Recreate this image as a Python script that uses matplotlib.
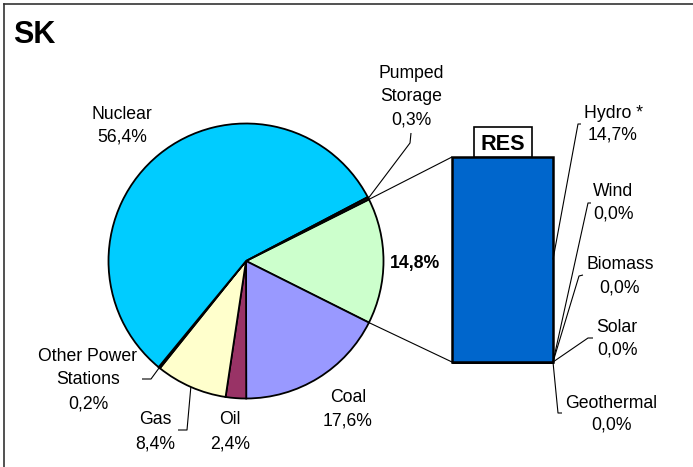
import numpy as np
import matplotlib
matplotlib.use("Agg")
import matplotlib.pyplot as plt
from matplotlib.patches import Rectangle

plt.rcParams['font.family'] = ['Liberation Sans', 'DejaVu Sans']

# ---- data ----
pie_labels = ["RES", "Coal", "Oil", "Gas", "Other Power Stations", "Nuclear", "Pumped Storage"]
pie_values = [14.8, 17.6, 2.4, 8.4, 0.2, 56.4, 0.3]
pie_colors = ["#CCFFCC", "#9999FF", "#993366", "#FFFFCC", "#111111", "#00CCFF", "#111111"]

res_labels = ["Geothermal", "Solar", "Biomass", "Wind", "Hydro *"]
res_values = [0.0, 0.0, 0.0, 0.0, 14.7]

W, H = 693, 467
fig = plt.figure(figsize=(W / 100, H / 100), dpi=100)

# pie axes: centre (246,261) px, radius 137.5 px
cx, cy, r = 246, 261, 137.5
pie_ax = fig.add_axes([(cx - r) / W, (H - cy - r) / H, 2 * r / W, 2 * r / H])
total = sum(pie_values)
start = pie_values[0] / total * 180.0
wedges, _ = pie_ax.pie(pie_values, colors=pie_colors, startangle=start, counterclock=False,
                       wedgeprops=dict(edgecolor="black", linewidth=1.3))
pie_ax.set_xlim(-1, 1)
pie_ax.set_ylim(-1, 1)
pie_ax.axis("off")

# bar axes
bx0, bx1, by0, by1 = 452, 553, 157, 362
bar_ax = fig.add_axes([bx0 / W, (H - by1) / H, (bx1 - bx0) / W, (by1 - by0) / H])
bottom = 0.0
bar_mids = []
for v in res_values:
    bar_ax.bar(0, v, bottom=bottom, width=1.0, color="#0066CC", edgecolor="black",
               linewidth=1.8, clip_on=False)
    bar_mids.append(bottom + v / 2)
    bottom += v
bar_ax.set_xlim(-0.5, 0.5)
bar_ax.set_ylim(0, sum(res_values))
bar_ax.axis("off")

# overlay axes in pixel coords (y down)
ov = fig.add_axes([0, 0, 1, 1], facecolor="none")
ov.set_xlim(0, W)
ov.set_ylim(H, 0)
ov.axis("off")


def to_px(ax, x, y):
    d = ax.transData.transform((x, y))
    return d[0], H - d[1]


def wedge_point(i, frac=0.5):
    w = wedges[i]
    a = np.deg2rad(w.theta1 + (w.theta2 - w.theta1) * frac)
    return to_px(pie_ax, np.cos(a), np.sin(a))


FS = 12.7
CAP = 0.716 * FS * 100 / 72 / 2


def label(x, ys, lines, bold=False, size=FS):
    for y, t in zip(ys, lines):
        ov.text(x, y + CAP * size / FS, t, ha="center", va="baseline", fontsize=size,
                fontweight="bold" if bold else "normal", color="black")


def leader(pts):
    xs = [p[0] for p in pts]
    ys = [p[1] for p in pts]
    ov.plot(xs, ys, color="black", lw=0.8, solid_capstyle="butt")


# connector lines between RES wedge and bar
w = wedges[0]
top_pt = to_px(pie_ax, np.cos(np.deg2rad(max(w.theta1, w.theta2))), np.sin(np.deg2rad(max(w.theta1, w.theta2))))
bot_pt = to_px(pie_ax, np.cos(np.deg2rad(min(w.theta1, w.theta2))), np.sin(np.deg2rad(min(w.theta1, w.theta2))))
btl = to_px(bar_ax, -0.5, sum(res_values))
bbl = to_px(bar_ax, -0.5, 0)
leader([top_pt, btl])
leader([bot_pt, bbl])

# pie labels
label(122, [113, 135], ["Nuclear", "56,4%"])
label(411, [72, 95, 118], ["Pumped", "Storage", "0,3%"])
leader([(411, 133), (410, 143), wedge_point(6)])
label(415, [262], ["14,8%"], bold=True)
label(348, [396, 419], ["Coal", "17,6%"])
label(230, [418, 442], ["Oil", "2,4%"])
label(155, [418, 442], ["Gas", "8,4%"])
leader([(178, 430), (187, 430), wedge_point(3)])
label(88, [355, 378, 402], ["Other Power", "Stations", "0,2%"])
leader([(142, 379), (151, 379), wedge_point(4)])

# bar labels
bar_pts = [to_px(bar_ax, 0.5, m) for m in bar_mids]
label(613, [112, 133], ["Hydro *", "14,7%"])
leader([(581, 124), (578, 124), bar_pts[4]])
label(613, [190, 212], ["Wind", "0,0%"])
leader([(591, 203), (588, 203), bar_pts[3]])
label(620, [263, 286], ["Biomass", "0,0%"])
leader([(583, 275), (579, 276), bar_pts[2]])
label(617, [326, 348], ["Solar", "0,0%"])
leader([(593, 338), (588, 338), bar_pts[1]])
label(611, [402, 423], ["Geothermal", "0,0%"])
leader([(562, 413), (558, 413), bar_pts[0]])

# RES box
ov.add_patch(Rectangle((474, 127), 58, 30, facecolor="white", edgecolor="black", lw=1.2, zorder=3))
ov.text(503, 142 + 0.716 * 15.6 * 100 / 72 / 2, "RES", ha="center", va="baseline",
        fontsize=15.6, fontweight="bold", zorder=4)

# title
ov.text(13, 32 + 0.716 * 22 * 100 / 72 / 2, "SK", ha="left", va="baseline", fontsize=22, fontweight="bold")

# frame lines (top and left)
ov.plot([4, 4], [4, H], color="#333333", lw=1.2)
ov.plot([4, W], [4, 4], color="#333333", lw=1.2)

fig.savefig("out.png", dpi=100)
